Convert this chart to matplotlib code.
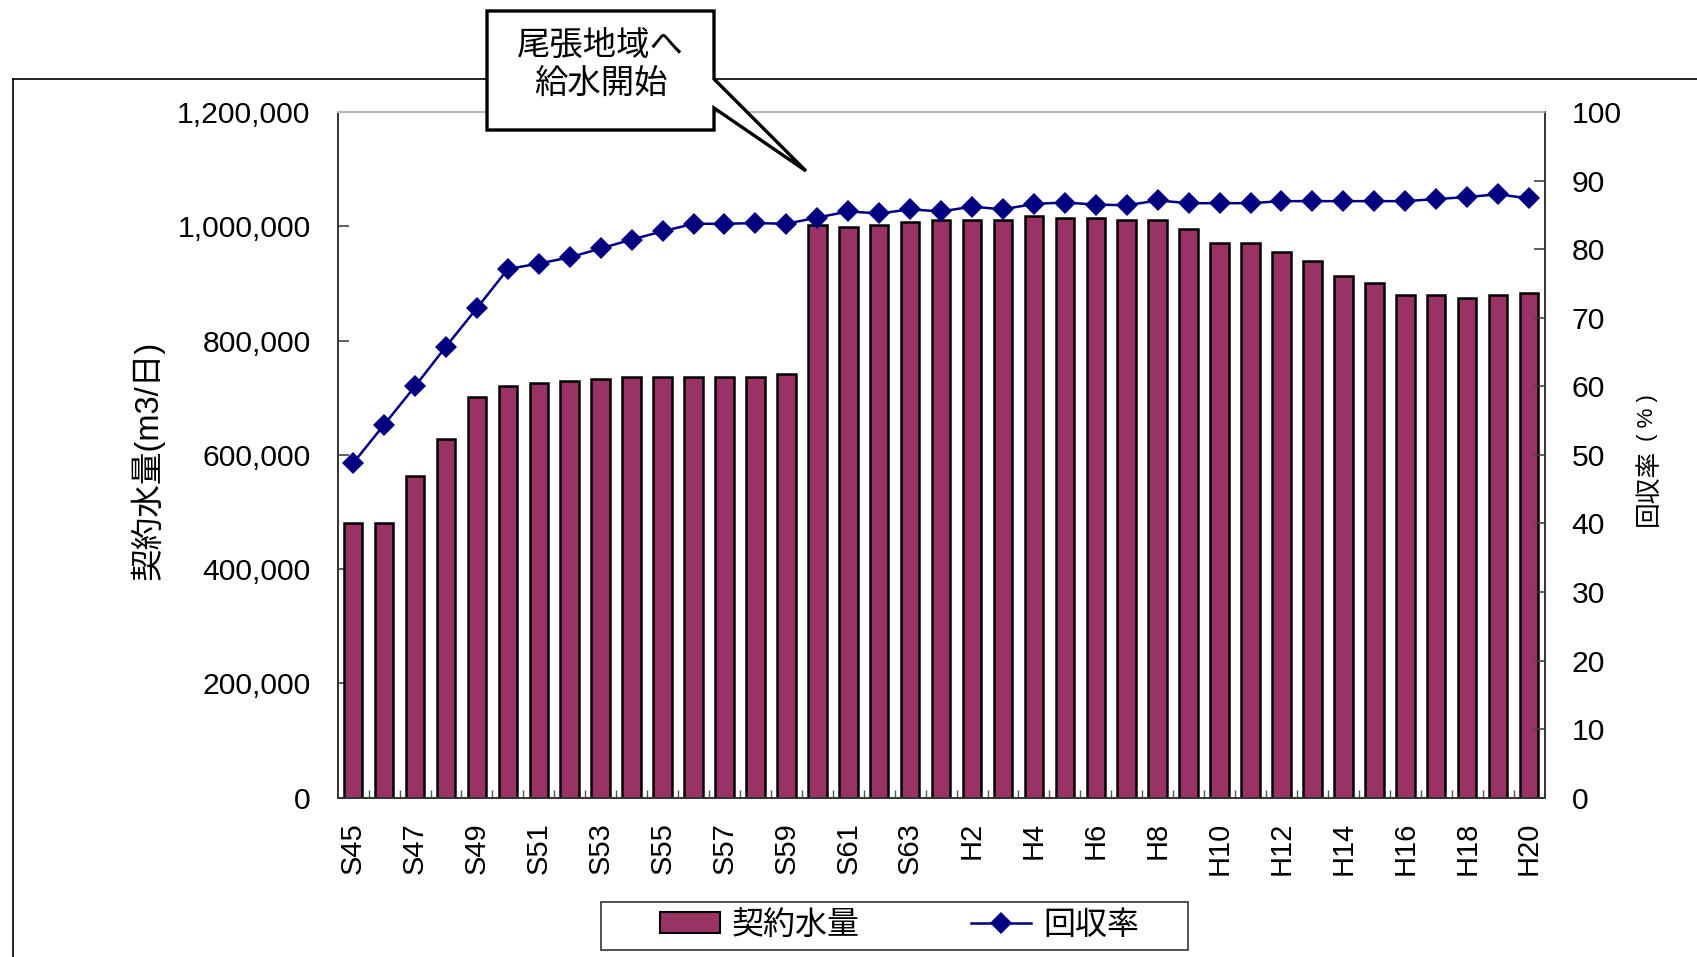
import numpy as np
import matplotlib
matplotlib.use("Agg")
import matplotlib.pyplot as plt
from matplotlib.patches import Polygon, Patch, Rectangle
from matplotlib.lines import Line2D
from matplotlib.ticker import FuncFormatter, FixedLocator

plt.rcParams['font.family'] = ['Liberation Sans', 'Noto Sans CJK JP', 'DejaVu Sans']

# fiscal years (Showa 45 .. Heisei 20)
years = ['S45', 'S46', 'S47', 'S48', 'S49', 'S50', 'S51', 'S52', 'S53', 'S54',
         'S55', 'S56', 'S57', 'S58', 'S59', 'S60', 'S61', 'S62', 'S63',
         'H1', 'H2', 'H3', 'H4', 'H5', 'H6', 'H7', 'H8', 'H9', 'H10',
         'H11', 'H12', 'H13', 'H14', 'H15', 'H16', 'H17', 'H18', 'H19', 'H20']

# contracted water volume (m3/day)
contract = [480000, 480000, 563000, 627000, 702000, 720000, 725000, 729000,
            732000, 736000, 736000, 736000, 736000, 736000, 741000,
            1003000, 999000, 1003000, 1007000,
            1011000, 1011000, 1011000, 1018000, 1015000, 1015000, 1011000,
            1011000, 996000, 970000, 970000, 955000, 940000, 913000, 901000,
            879000, 879000, 875000, 879000, 883000]

# recovery rate (%)
recovery = [48.8, 54.4, 60.0, 65.8, 71.4, 77.1, 77.9, 78.8, 80.1, 81.4,
            82.6, 83.7, 83.7, 83.8, 83.7, 84.6, 85.5, 85.2, 85.8,
            85.5, 86.2, 85.8, 86.6, 86.8, 86.5, 86.4, 87.1, 86.7, 86.7,
            86.7, 87.0, 87.0, 87.0, 87.0, 87.0, 87.3, 87.6, 88.0, 87.4]

bar_color = '#993366'
line_color = '#000080'
W, H = 1697, 957

fig = plt.figure(figsize=(W / 100, H / 100), dpi=100)
ax = fig.add_axes([337.7 / W, 1 - 797.7 / H, (1544.5 - 337.7) / W, (797.7 - 112) / H])
ax2 = ax.twinx()

x = np.arange(len(years))
ax.bar(x, contract, width=0.6, color=bar_color, edgecolor='black', linewidth=1.8, zorder=2)
ax2.plot(x, recovery, color=line_color, linewidth=1.8, marker='D', markersize=11.5,
         markeredgewidth=0, zorder=3)

ax.set_xlim(-0.5, len(years) - 0.5)
ax.set_ylim(0, 1200000)
ax2.set_ylim(0, 100)
ax.set_yticks(np.arange(0, 1200001, 200000))
ax.yaxis.set_major_formatter(FuncFormatter(lambda v, p: f'{int(v):,}'))
ax2.set_yticks(np.arange(0, 101, 10))

ax.set_xticks(x[::2])
ax.set_xticklabels(years[::2], rotation=90, va='top', ha='center')
ax.xaxis.set_minor_locator(FixedLocator(x[:-1] + 0.5))

ax.tick_params(axis='x', which='major', length=0, pad=17.5, labelsize=21)
ax.tick_params(axis='x', which='minor', direction='in', length=6, width=1, color='#555555')
ax.tick_params(axis='y', direction='in', length=8, width=1.2, color='#444444', pad=19.5, labelsize=21.7)
ax2.tick_params(axis='y', direction='in', length=8, width=1.2, color='#444444', pad=19.5, labelsize=21.7)

for a in (ax, ax2):
    a.spines['top'].set_color('#b8b8b8')
    a.spines['top'].set_linewidth(1.5)
    for s in ('left', 'right', 'bottom'):
        a.spines[s].set_color('#333333')
        a.spines[s].set_linewidth(1.2)

# axis titles
fig.text(148 / W, 1 - 460 / H, '契約水量(m3/日)', rotation=90, ha='center', va='center',
         fontsize=23.5)
fig.text(1649 / W, 1 - 487 / H, '回収率', rotation=90, ha='center', va='center',
         fontsize=18.5)
fig.text(1647 / W, 1 - 418 / H, '( % )', rotation=90, ha='center', va='center',
         fontsize=16)

# outer frame
fig.add_artist(Line2D([13 / W, 1.0], [1 - 79 / H, 1 - 79 / H], color='black', linewidth=1.2))
fig.add_artist(Line2D([13 / W, 13 / W], [1 - 79 / H, 0.0], color='black', linewidth=1.2))

# callout box
callout = [(487, 11), (714, 11), (714, 79), (806, 171), (714, 108), (714, 130), (487, 130)]
fig.add_artist(Polygon([(px / W, 1 - py / H) for px, py in callout], closed=True,
                       facecolor='white', edgecolor='black', linewidth=2.4,
                       transform=fig.transFigure, zorder=10))
fig.text(600.5 / W, 1 - 65 / H, '尾張地域へ\n給水開始', ha='center', va='center',
         fontsize=24, linespacing=1.28, zorder=11)

# legend with a hand-drawn frame
fig.add_artist(Rectangle((600.7 / W, 1 - 950.3 / H), (1188.4 - 600.7) / W, (950.3 - 901.5) / H,
                         transform=fig.transFigure, facecolor='white', edgecolor='#333333',
                         linewidth=1.2, zorder=1))
handles = [Patch(facecolor=bar_color, edgecolor='black', linewidth=1.5),
           Line2D([], [], color=line_color, linewidth=1.8, marker='D', markersize=11.5,
                  markeredgewidth=0)]
leg = fig.legend(handles, ['契約水量', '回収率'], ncol=2, loc='center',
                 bbox_to_anchor=(899.5 / W, 1 - 926 / H), fontsize=23, frameon=False,
                 handlelength=1.87, handleheight=0.65, columnspacing=3.5,
                 borderpad=0.2, handletextpad=0.37, borderaxespad=0)
leg.set_zorder(5)

fig.savefig('out.png', dpi=100)
